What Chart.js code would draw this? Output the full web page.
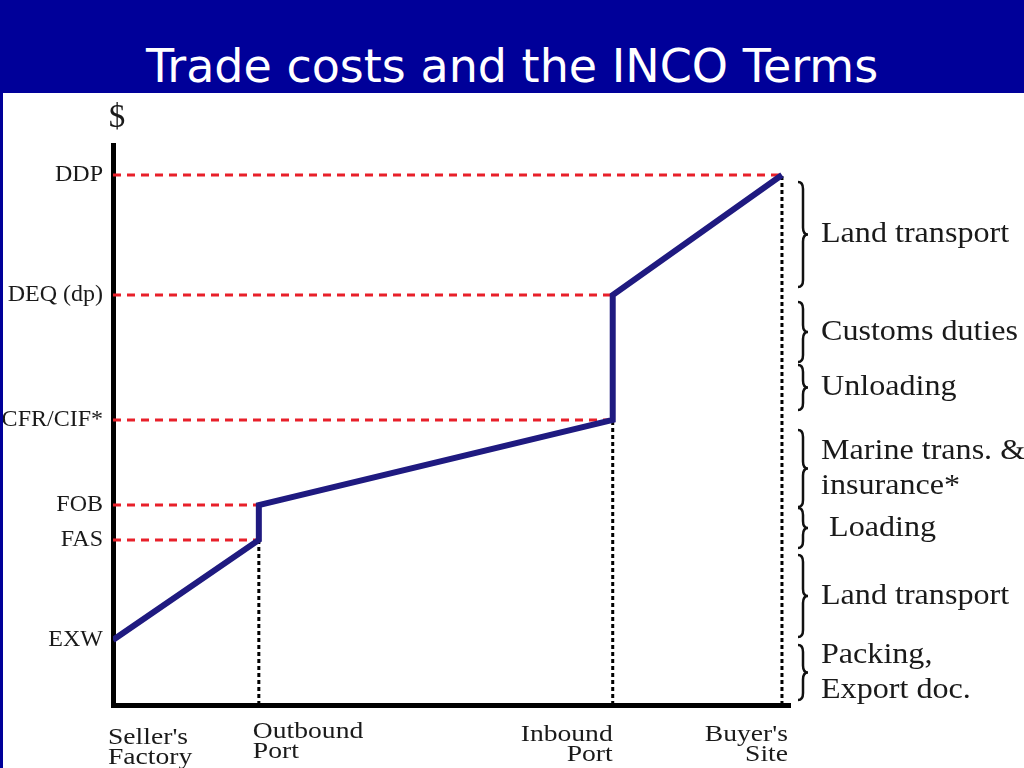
<!DOCTYPE html>
<html>
<head>
<meta charset="utf-8">
<script src="https://cdn.jsdelivr.net/npm/chart.js@4"></script>
<style>
body { margin: 0; background: #fff; }
#head {
    height: 93px; box-sizing: border-box; padding-top: 44px;
    background: #000099; color: #fff; text-align: center;
    font-family: 'DejaVu Sans', sans-serif; font-size: 46px; line-height: 44px;
}
#wrap { position: relative; width: 1021px; height: 675px; border-left: 3px solid #000099; }
</style>
</head>
<body>
<div id="head">Trade costs and the INCO Terms</div>
<div id="wrap"><canvas id="inco"></canvas></div>
<script>
// stops along the way from seller to buyer
var stops = [["Seller's", "Factory"], ["Outbound", "Port"], ["Inbound", "Port"], ["Buyer's", "Site"]];
var stopX = [0, 21.8, 74.7, 100];

// INCO terms: cost level and the stop where it's reached
var termNames = ['EXW', 'FAS', 'FOB', 'CFR/CIF*', 'DEQ (dp)', 'DDP'];
var termCost = [65, 165, 200, 285, 410, 530];
var termStop = [0, 1, 1, 2, 2, 3];

// cost components on the right (value ranges on the $ axis)
var partNames = [['Land transport'], ['Customs duties'], ['Unloading'], ['Marine trans. &', 'insurance*'], [' Loading'], ['Land transport'], ['Packing,', 'Export doc.']];
var partFrom = [523, 403, 340, 275, 197, 150, 60];
var partTo = [418, 343, 295, 198, 157, 68, 5];

var serif = "'Liberation Serif', 'Times New Roman', serif";
var ink = '#1a1a1a';

var datasets = [];

// main cost line
datasets.push({
    data: termCost.map(function(c, i) { return {x: stopX[termStop[i]], y: c}; }),
    borderColor: '#1f1a80',
    borderWidth: 6,
    pointRadius: 0,
    order: 0
});

// red dashed guides from the $ axis to each term
for (var i = 1; i < termCost.length; i++) {
    datasets.push({
        data: [{x: 0, y: termCost[i]}, {x: stopX[termStop[i]], y: termCost[i]}],
        borderColor: '#e8202a',
        borderWidth: 3,
        borderDash: [8, 6],
        pointRadius: 0,
        order: 2
    });
}

// black dotted drops from each stop down to the axis
for (var s = 1; s < stopX.length; s++) {
    var low = Infinity;
    for (var j = 0; j < termCost.length; j++) {
        if (termStop[j] == s && termCost[j] < low) low = termCost[j];
    }
    datasets.push({
        data: [{x: stopX[s], y: 0}, {x: stopX[s], y: low}],
        borderColor: '#000',
        borderWidth: 3,
        borderDash: [4, 3],
        pointRadius: 0,
        order: 1
    });
}

function wideText(ctx, text, x, y, sx) {   // the slide's serif text is a bit stretched sideways
    ctx.save();
    ctx.translate(x, y);
    ctx.scale(sx, 1);
    ctx.fillText(text, 0, 0);
    ctx.restore();
}

var extras = {    // draws the $ sign, stop labels and the braces on the right
    id: 'extras',
    afterDraw: function(chart) {
        var ctx = chart.ctx;
        var area = chart.chartArea;
        var xs = chart.scales.x, ys = chart.scales.y;
        ctx.save();
        ctx.fillStyle = ink;
        ctx.textBaseline = 'middle';

        ctx.font = '33px ' + serif;
        ctx.textAlign = 'center';
        ctx.fillText('$', area.left + 4, area.top - 27);

        var align = ['left', 'left', 'right', 'right'];
        var shift = [-5, -6, 0, 6];
        var drop = [33, 27, 30, 30];
        ctx.font = '23px ' + serif;
        for (var k = 0; k < stops.length; k++) {
            ctx.textAlign = align[k];
            var px = xs.getPixelForValue(stopX[k]) + shift[k];
            for (var l = 0; l < stops[k].length; l++) {
                wideText(ctx, stops[k][l], px, area.bottom + drop[k] + l * 20, 1.2);
            }
        }

        ctx.strokeStyle = '#111';
        ctx.lineWidth = 2.5;
        ctx.font = '30px ' + serif;
        ctx.textAlign = 'left';
        var bx = area.right + 8, w = 10;
        for (var p = 0; p < partNames.length; p++) {
            var top = ys.getPixelForValue(partFrom[p]);
            var bot = ys.getPixelForValue(partTo[p]);
            var mid = (top + bot) / 2;
            var r = Math.min(7, (bot - top) / 4);
            ctx.beginPath();
            ctx.moveTo(bx, top);
            ctx.quadraticCurveTo(bx + w / 2, top, bx + w / 2, top + r);
            ctx.lineTo(bx + w / 2, mid - r);
            ctx.quadraticCurveTo(bx + w / 2, mid, bx + w, mid);
            ctx.quadraticCurveTo(bx + w / 2, mid, bx + w / 2, mid + r);
            ctx.lineTo(bx + w / 2, bot - r);
            ctx.quadraticCurveTo(bx + w / 2, bot, bx, bot);
            ctx.stroke();
            var lines = partNames[p];
            for (var q = 0; q < lines.length; q++) {
                wideText(ctx, lines[q], area.right + 31, mid + (q - (lines.length - 1) / 2) * 35, 1.07);
            }
        }
        ctx.restore();
    }
};

var chart = new Chart(document.getElementById('inco'), {
    type: 'line',
    data: { datasets: datasets },
    plugins: [extras],
    options: {
        responsive: true,
        maintainAspectRatio: false,
        animation: false,
        layout: { padding: { left: 0, top: 52, right: 234, bottom: 0 } },
        plugins: { legend: { display: false }, tooltip: { enabled: false } },
        elements: { line: { tension: 0, fill: false } },
        scales: {
            x: {
                type: 'linear',
                min: 0,
                max: 101.2,
                grid: { display: false },
                border: { color: '#000', width: 5 },
                ticks: { display: false },
                afterFit: function(scale) { scale.height = 63; }
            },
            y: {
                type: 'linear',
                min: 0,
                max: 560,
                grid: { display: false },
                border: { color: '#000', width: 5 },
                afterBuildTicks: function(scale) {
                    scale.ticks = termCost.map(function(v) { return {value: v}; });
                },
                ticks: {
                    autoSkip: false,
                    padding: 2,
                    color: ink,
                    font: { family: serif, size: 24 },
                    callback: function(v) { return termNames[termCost.indexOf(v)]; }
                },
                afterFit: function(scale) { scale.width = 110; }
            }
        }
    }
});
</script>
</body>
</html>
